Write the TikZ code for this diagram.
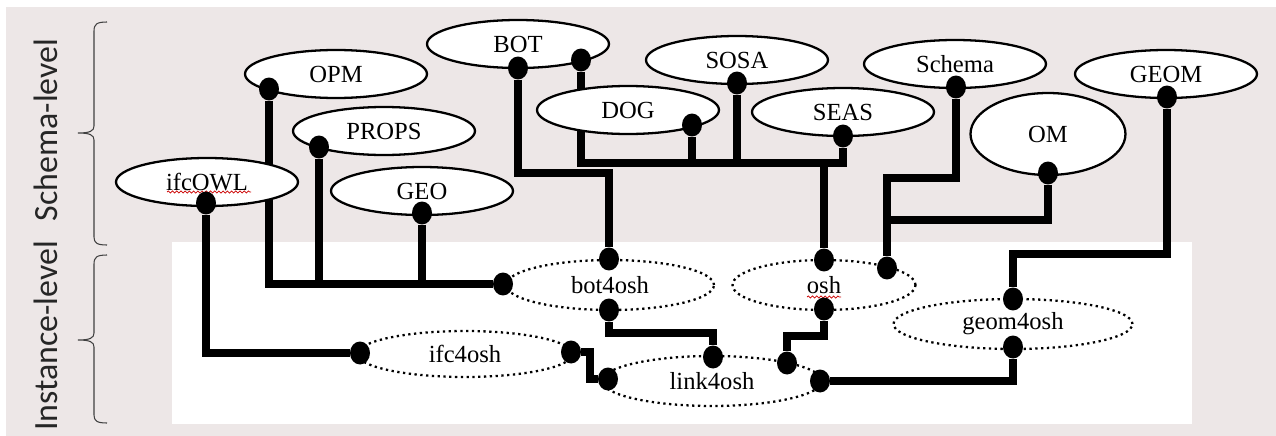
\documentclass[tikz,border=0pt]{standalone}
\usepackage{fontspec}
\setmainfont{Liberation Serif}
\newfontfamily\lvlfont{Carlito}
\usetikzlibrary{shapes.geometric}
\usetikzlibrary{decorations.pathmorphing}
\definecolor{panelgray}{RGB}{237,231,231}
\pgfdeclarelayer{back}
\pgfsetlayers{back,main}

\begin{document}
\begin{tikzpicture}[x=0.02cm, y=-0.02cm,
    onto/.style={ellipse, draw, line width=1.3pt, fill=white, inner sep=0pt, minimum width=3.64cm, minimum height=0.96cm, font=\fontsize{14}{16}\selectfont},
    inst/.style={ellipse, draw, dotted, line width=1.3pt, fill=white, inner sep=0pt, minimum height=1cm, font=\fontsize{14}{16}\selectfont},
    knob/.style={ellipse, fill=black, inner sep=0pt, minimum width=0.4cm, minimum height=0.46cm},
    wire/.style={line width=4pt},
    tier/.style={rotate=90, text=black!85, font=\lvlfont\fontsize{19.3}{22}\selectfont},
    lbrace/.style={black!75, line width=0.6pt},
    squiggle/.style={red!80!black, line width=0.4pt, decorate, decoration={snake, amplitude=0.6pt, segment length=2.4pt}}]
  \useasboundingbox (0,0) rectangle (1276,436);

  % levels
  \node[tier] (schemalbl) at (46,130) {Schema-level};
  \node[tier] (instlbl) at (46,336) {Instance-level};
  \draw[lbrace] (107,22) .. controls (97,22) and (94,24) .. (94,31) -- (94,126)
    .. controls (94,131) and (90,133) .. (78,133) .. controls (90,133) and (94,135) .. (94,140)
    -- (94,237) .. controls (94,243) and (97,245) .. (107,245);
  \draw[lbrace] (107,255) .. controls (97,255) and (94,257) .. (94,264) -- (94,333)
    .. controls (94,338) and (90,340) .. (78,340) .. controls (90,340) and (94,342) .. (94,347)
    -- (94,415) .. controls (94,421) and (97,423) .. (107,423);

  % schema ontologies
  \node[onto] (bot) at (518,44) {BOT};
  \node[onto] (opm) at (336,74) {OPM};
  \node[onto] (props) at (384,131) {PROPS};
  \node[onto] (ifcowl) at (207,182) {ifcOWL};
  \node[onto] (geo) at (422,191) {GEO};
  \node[onto] (dog) at (628,110) {DOG};
  \node[onto] (sosa) at (737,60) {SOSA};
  \node[onto] (seas) at (843,112) {SEAS};
  \node[onto] (schema) at (955,64) {Schema};
  \node[onto, minimum width=3.1cm, minimum height=1.64cm] (om) at (1048,134) {OM};
  \node[onto] (geom) at (1166,74) {GEOM};

  % instance graphs
  \node[inst, minimum width=4.16cm] (bot4osh) at (610,285) {bot4osh};
  \node[inst, minimum width=3.66cm] (osh) at (824,285) {osh};
  \node[inst, minimum width=4.78cm] (geom4osh) at (1013,324) {geom4osh};
  \node[inst, minimum width=4.3cm, minimum height=0.92cm] (ifc4osh) at (465,354) {ifc4osh};
  \node[inst, minimum width=4.4cm] (link4osh) at (712,381) {link4osh};

  \draw[squiggle] (167,192) -- (251,192);
  \draw[squiggle] (807,297) -- (841,297);

  % link points
  \foreach \n/\x/\y in {ifcowl-s/206/203, opm-s/269/89, props-s/319/147, geo-s/422/213,
      bot-s/518/68, bot-se/581/60, dog-se/692/125, sosa-s/737/83, seas-s/843/136,
      schema-s/956/87, om-s/1048/173, geom-s/1167/97,
      bot4osh-n/609/259, bot4osh-w/503/284, bot4osh-s/609/310,
      osh-n/824/260, osh-ne/887/268, osh-s/824/309,
      geom4osh-n/1013/299, geom4osh-s/1013/347,
      ifc4osh-w/360/353, ifc4osh-e/571/352,
      link4osh-w/608/379, link4osh-n/713/357, link4osh-ne/787/363, link4osh-e/820/381}
    \node[knob] (\n) at (\x,\y) {};

  \begin{pgfonlayer}{back}
    \fill[white] (0,0) rectangle (1276,436);
    \fill[panelgray] (6,7) rectangle (1276,436);
    \fill[white] (172,242) rectangle (1192,424);
    \coordinate (bus) at (700,163);
    \draw[wire] (ifcowl-s) |- (ifc4osh-w);
    \draw[wire] (opm-s) |- (bot4osh-w);
    \draw[wire] (props-s) -- (props-s |- bot4osh-w);
    \draw[wire] (geo-s) -- (geo-s |- bot4osh-w);
    \draw[wire] (bot-s) -- ++(0,105) -| (bot4osh-n);
    \draw[wire] (bot-se) |- (bus) -| (seas-s);
    \draw[wire] (dog-se) -- (dog-se |- bus);
    \draw[wire] (sosa-s) -- (sosa-s |- bus);
    \draw[wire] (osh-n) -- (osh-n |- bus);
    \draw[wire] (schema-s) -- ++(0,91) -| (osh-ne);
    \draw[wire] (om-s) -- ++(0,47) -| (osh-ne);
    \draw[wire] (geom-s) -- ++(0,157) -| (geom4osh-n);
    \draw[wire] (bot4osh-s) -- ++(0,23) -| (link4osh-n);
    \draw[wire] (osh-s) -- ++(0,27) -| (link4osh-ne);
    \draw[wire] (geom4osh-s) |- (link4osh-e);
    \draw[wire] (ifc4osh-e) -- ++(19,0) |- (link4osh-w);
  \end{pgfonlayer}
\end{tikzpicture}
\end{document}
